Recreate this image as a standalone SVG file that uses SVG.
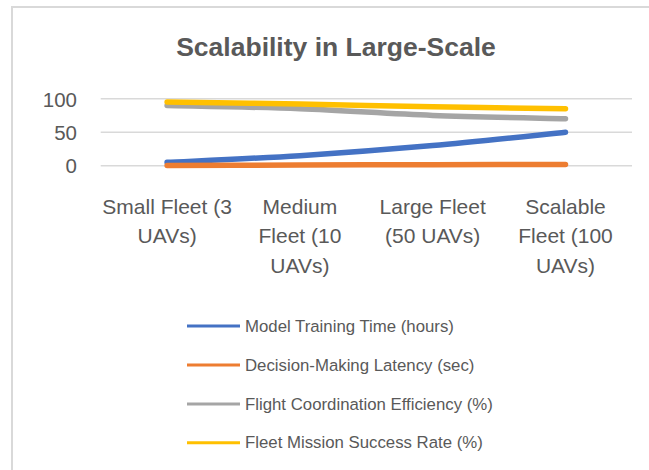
<svg xmlns="http://www.w3.org/2000/svg" width="649" height="470" viewBox="0 0 649 470">
  <style>
    .txt { font-family: "Liberation Sans", Arial, sans-serif; fill: #595959; }
    .title { font-size: 26.5px; font-weight: bold; }
    .axis { font-size: 20.5px; }
    .cat { font-size: 21px; }
    .legend { font-size: 16.8px; }
    .grid { stroke: #D9D9D9; stroke-width: 1.4; fill: none; }
    .series { fill: none; stroke-width: 5.5; stroke-linecap: round; stroke-linejoin: round; }
    .key { fill: none; stroke-width: 3; }
    .blue { stroke: #4472C4; }
    .orange { stroke: #ED7D31; }
    .gray { stroke: #A5A5A5; }
    .yellow { stroke: #FFC000; }
  </style>

  <rect x="0" y="0" width="649" height="470" fill="#FFFFFF"/>

  <!-- chart frame (top and left edges) -->
  <g id="frame" fill="none" stroke="#D9D9D9" stroke-width="2">
    <path d="M12,470 V7 H649"/>
  </g>

  <g id="title">
    <text class="txt title" x="336" y="55.7" text-anchor="middle">Scalability in Large-Scale</text>
  </g>

  <!-- value axis gridlines and labels -->
  <g id="gridlines">
    <line class="grid" x1="100.7" y1="98.7" x2="632" y2="98.7"/>
    <line class="grid" x1="100.7" y1="132.2" x2="632" y2="132.2"/>
    <line class="grid" x1="100.7" y1="165.7" x2="632" y2="165.7"/>
  </g>
  <g id="value-axis" class="txt axis" text-anchor="end">
    <text x="77" y="106.7">100</text>
    <text x="77" y="140">50</text>
    <text x="77" y="173.3">0</text>
  </g>

  <!-- category axis labels -->
  <g id="category-axis" class="txt cat" text-anchor="middle">
    <text x="167.1" y="213.5">Small Fleet (3</text>
    <text x="167.1" y="243">UAVs)</text>
    <text x="299.9" y="213.5">Medium</text>
    <text x="299.9" y="243">Fleet (10</text>
    <text x="299.9" y="272.5">UAVs)</text>
    <text x="432.7" y="213.5">Large Fleet</text>
    <text x="432.7" y="243">(50 UAVs)</text>
    <text x="565.5" y="213.5">Scalable</text>
    <text x="565.5" y="243">Fleet (100</text>
    <text x="565.5" y="272.5">UAVs)</text>
  </g>

  <!-- data series (smoothed lines) -->
  <g id="connectors">
    <path id="series-training-time" class="series blue" d="M167.1,162.35 C189.23,161.23 255.63,158.44 299.9,155.65 C344.17,152.86 388.43,149.51 432.7,145.6 C476.97,141.69 543.37,134.43 565.5,132.2"/>
    <path id="series-latency" class="series orange" d="M167.1,165.4 C211.4,165.25 255.6,165.15 299.9,165.0 C344.2,164.9 388.4,164.8 432.7,164.7 C477,164.6 521.2,164.5 565.5,164.4"/>
    <path id="series-coordination" class="series gray" d="M167.1,105.4 C189.23,105.96 255.63,107.08 299.9,108.75 C344.17,110.43 388.43,113.78 432.7,115.45 C476.97,117.13 543.37,118.24 565.5,118.8"/>
    <path id="series-success-rate" class="series yellow" d="M167.1,102.05 C189.23,102.39 255.63,103.28 299.9,104.06 C344.17,104.84 388.43,105.96 432.7,106.74 C476.97,107.52 543.37,108.42 565.5,108.75"/>
  </g>

  <!-- legend -->
  <g id="legend">
    <g id="legend-training-time">
      <line class="key blue" x1="187" y1="326" x2="240" y2="326"/>
      <text class="txt legend" x="245" y="331.5">Model Training Time (hours)</text>
    </g>
    <g id="legend-latency">
      <line class="key orange" x1="187" y1="365" x2="240" y2="365"/>
      <text class="txt legend" x="245" y="370.5">Decision-Making Latency (sec)</text>
    </g>
    <g id="legend-coordination">
      <line class="key gray" x1="187" y1="404" x2="240" y2="404"/>
      <text class="txt legend" x="245" y="409.5">Flight Coordination Efficiency (%)</text>
    </g>
    <g id="legend-success-rate">
      <line class="key yellow" x1="187" y1="442.7" x2="240" y2="442.7"/>
      <text class="txt legend" x="245" y="448.2">Fleet Mission Success Rate (%)</text>
    </g>
  </g>
</svg>
